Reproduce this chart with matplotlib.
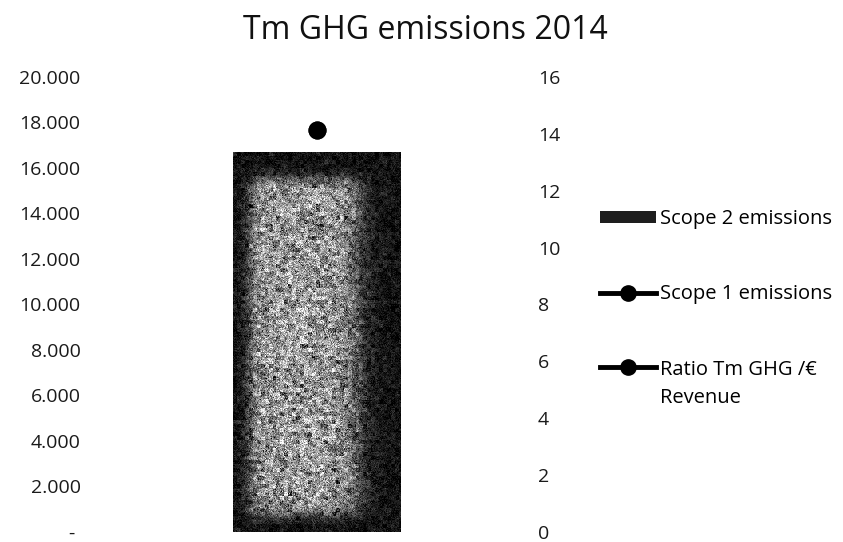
import numpy as np
import matplotlib
matplotlib.use("Agg")
import matplotlib.pyplot as plt
from matplotlib.lines import Line2D
from matplotlib.patches import Patch
from matplotlib.legend_handler import HandlerLine2D
from matplotlib.ticker import FuncFormatter

# ---- data ----
categories = ["2014"]
scope2_emissions = [16700]      # left axis (Tm)
scope1_emissions = [17670]      # left axis (Tm)
ratio_ghg_revenue = [14.14]     # right axis
left_ticks = [0, 2000, 4000, 6000, 8000, 10000, 12000, 14000, 16000, 18000, 20000]
right_ticks = [0, 2, 4, 6, 8, 10, 12, 14, 16]
title = "Tm GHG emissions 2014"
labels = ["Scope 2 emissions", "Scope 1 emissions", "Ratio Tm GHG /€\nRevenue"]

plt.rcParams['font.family'] = ['Open Sans', 'DejaVu Sans']

fig = plt.figure(figsize=(8.43, 5.42), dpi=100)
ax = fig.add_axes([0.122, 0.0185, 0.508, 0.8395])
ax2 = ax.twinx()

x = np.arange(len(categories))
bars = ax.bar(x, scope2_emissions, width=0.39, color="#2a2a2a", zorder=2)

# scanned-looking texture clipped to the bar
for b in bars:
    x0, y0 = b.get_x(), b.get_y()
    w, h = b.get_width(), b.get_height()
    ny, nx = 380, 170
    u = np.linspace(0, 1, nx)[None, :]
    v = np.linspace(0, 1, ny)[:, None]  # 0 = top
    def sm(t, a, k):
        return 1 / (1 + np.exp(-(t - a) / k))
    inner = sm(u, 0.10, 0.025) * (1 - sm(u, 0.74, 0.045)) * sm(v, 0.07, 0.01) * (1 - sm(v, 0.955, 0.01))
    rng = np.random.default_rng(3)
    coarse = rng.normal(0, 1, (ny // 4 + 1, nx // 4 + 1))
    coarse = np.kron(coarse, np.ones((4, 4)))[:ny, :nx]
    fine = rng.normal(0, 1, (ny, nx))
    noise = 0.13 * coarse + 0.17 * fine
    img = 0.07 + 0.52 * inner + noise * (0.3 + 0.7 * inner)
    img = np.clip(img, 0, 1)
    im = ax.imshow(img, cmap="gray", vmin=0, vmax=1, extent=(x0, x0 + w, y0, y0 + h),
                   aspect="auto", zorder=3, interpolation="nearest")
    im.set_clip_path(b)

ax.plot(x, scope1_emissions, color="black", lw=3.5, marker="o", ms=12, zorder=5)
ax2.plot(x, ratio_ghg_revenue, color="black", lw=3.5, marker="o", ms=12, zorder=5)

ax.set_xlim(-0.5, 0.5)
ax.set_ylim(0, 20000)
ax2.set_ylim(0, 16)
ax.set_yticks(left_ticks)
ax2.set_yticks(right_ticks)
ax.yaxis.set_major_formatter(FuncFormatter(lambda v, p: "- " if v == 0 else f"{int(v):,}".replace(",", ".")))
ax.set_xticks([])
for a in (ax, ax2):
    for s in a.spines.values():
        s.set_visible(False)
    a.tick_params(length=0, labelsize=14, colors="#1a1a1a")
ax.tick_params(axis="y", pad=16)
ax2.tick_params(axis="y", pad=5)
ax.set_zorder(ax2.get_zorder() + 1)
ax.patch.set_visible(False)

fig.suptitle(title, x=0.505, y=0.975, fontsize=23, color="#111111")


class OffsetLineHandler(HandlerLine2D):
    def __init__(self, dy=0.0, **kw):
        super().__init__(**kw)
        self.dy = dy

    def create_artists(self, legend, orig_handle, xdescent, ydescent, width, height, fontsize, trans):
        return super().create_artists(legend, orig_handle, xdescent, ydescent - 2 * self.dy * fontsize,
                                      width, height, fontsize, trans)


handles = [Patch(facecolor="#1e1e1e", edgecolor="none"),
           Line2D([], [], color="black", lw=3.5, marker="o", ms=11),
           Line2D([], [], color="black", lw=3.5, marker="o", ms=11)]
leg = fig.legend(handles, labels, loc="upper left", bbox_to_anchor=(0.712, 0.6145),
                 frameon=False, fontsize=14.5, handlelength=2.75, handleheight=0.5, handletextpad=0.2,
                 labelspacing=2.75, borderpad=0, borderaxespad=0,
                 handler_map={handles[2]: OffsetLineHandler(dy=0.9)})
leg.get_texts()[2].set_linespacing(1.55)

fig.savefig("out.png", dpi=100, facecolor="white")
